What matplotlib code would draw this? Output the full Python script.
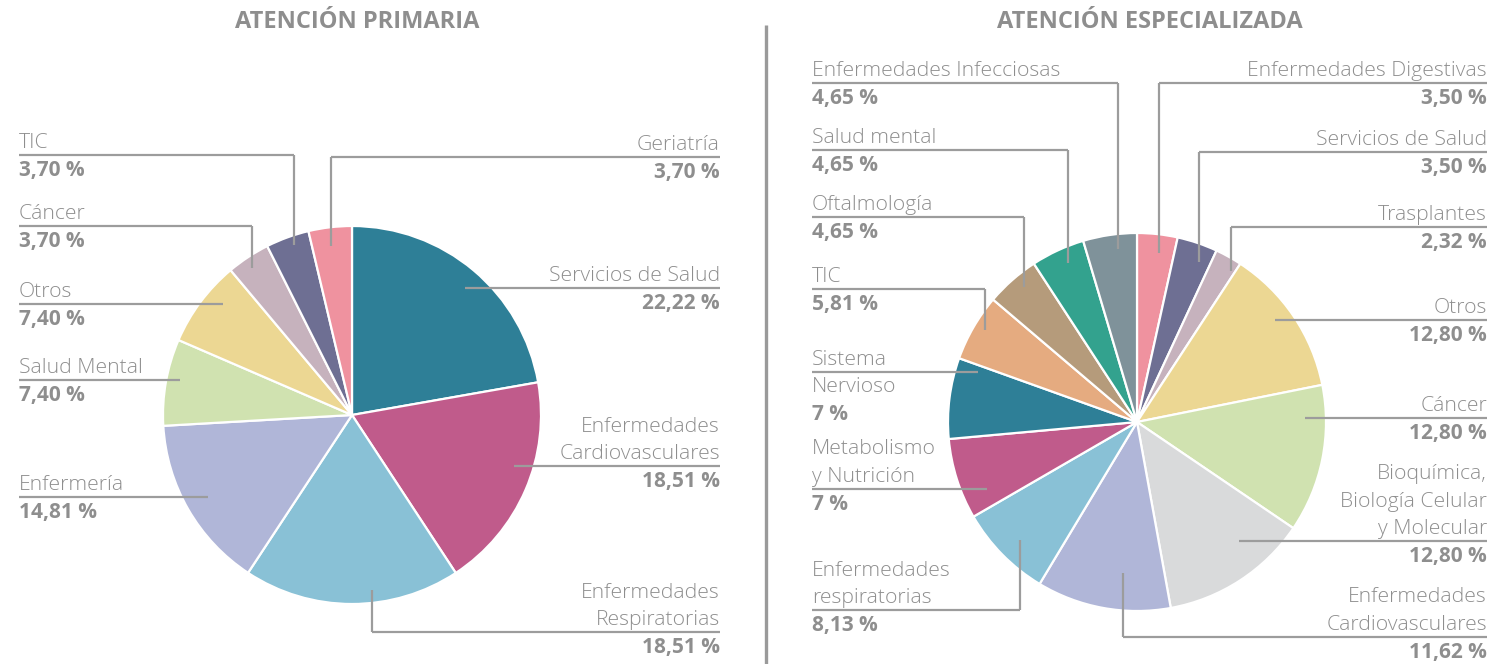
import numpy as np
import matplotlib
matplotlib.use("Agg")
import matplotlib.pyplot as plt

W, H = 1490, 664

# ---- data: atención primaria (clockwise from 12 o'clock)
prim_labels = ["Servicios de Salud", "Enfermedades\nCardiovasculares", "Enfermedades\nRespiratorias",
               "Enfermería", "Salud Mental", "Otros", "Cáncer", "TIC", "Geriatría"]
prim_values = [22.22, 18.51, 18.51, 14.81, 7.40, 7.40, 3.70, 3.70, 3.70]
prim_pct = ["22,22 %", "18,51 %", "18,51 %", "14,81 %", "7,40 %", "7,40 %", "3,70 %", "3,70 %", "3,70 %"]

# ---- data: atención especializada
esp_labels = ["Enfermedades Digestivas", "Servicios de Salud", "Trasplantes", "Otros", "Cáncer",
              "Bioquímica,\nBiología Celular\ny Molecular", "Enfermedades\nCardiovasculares",
              "Enfermedades\nrespiratorias", "Metabolismo\ny Nutrición", "Sistema\nNervioso", "TIC",
              "Oftalmología", "Salud mental", "Enfermedades Infecciosas"]
esp_values = [3.50, 3.50, 2.32, 12.80, 12.80, 12.80, 11.62, 8.13, 7, 7, 5.81, 4.65, 4.65, 4.65]
esp_pct = ["3,50 %", "3,50 %", "2,32 %", "12,80 %", "12,80 %", "12,80 %", "11,62 %", "8,13 %",
           "7 %", "7 %", "5,81 %", "4,65 %", "4,65 %", "4,65 %"]

# ---- colours
TEAL, MAG, LBLUE, LAV = "#2e7f97", "#c05b8b", "#89c1d6", "#b0b6d8"
LGREEN, YEL, PGREY, PURP, PINK = "#d0e2b0", "#ecd793", "#c6b2bd", "#6e6f93", "#ef929f"
prim_colors = [TEAL, MAG, LBLUE, LAV, LGREEN, YEL, PGREY, PURP, PINK]
esp_colors = [PINK, PURP, PGREY, YEL, LGREEN, "#d9dadb", LAV, LBLUE, MAG, TEAL,
              "#e5ab80", "#b59b7b", "#33a28e", "#7f929a"]

# ---- label layout: (text x, align, leader y, lines above leader, t within wedge, radius frac, elbow)
prim_layout = [
    (720, "right", 288, 1, .52, .90, False),
    (720, "right", 466, 2, .41, .90, False),
    (720, "right", 632, 2, .40, .93, True),
    (19, "left", 497, 1, .50, .88, False),
    (19, "left", 380, 1, .56, .93, False),
    (19, "left", 304, 1, .65, .90, False),
    (19, "left", 226, 1, .43, .94, True),
    (19, "left", 155, 1, .59, .95, True),
    (720, "right", 157, 1, .46, .90, True),
]
esp_layout = [
    (1487, "right", 83, 1, .59, .90, True),
    (1487, "right", 152, 1, .70, .91, True),
    (1487, "right", 227, 1, .85, .94, True),
    (1487, "right", 320, 1, .45, .91, False),
    (1487, "right", 418, 1, .22, .89, False),
    (1487, "right", 541, 3, .34, .83, False),
    (1487, "right", 637, 2, .38, .80, True),
    (812, "left", 610, 2, .48, .88, True),
    (812, "left", 489, 2, .25, .87, False),
    (812, "left", 372, 1, .88, .88, False),
    (812, "left", 289, 1, .56, .94, True),
    (812, "left", 217, 1, .59, .93, True),
    (812, "left", 150, 1, .58, .92, True),
    (812, "left", 83, 1, .62, .92, True),
]

TXT = "#8e8e8e"
LINE = "#9c9c9c"
FONT = "Open Sans"

fig = plt.figure(figsize=(W / 100, H / 100), dpi=100)
ax = fig.add_axes([0, 0, 1, 1])


def Y(y):
    return H - y


def draw_pie(values, colors, labels, pcts, layout, cx, cy, r):
    wedges, _ = ax.pie(values, colors=colors, startangle=90, counterclock=False,
                       center=(cx, Y(cy)), radius=r,
                       wedgeprops=dict(edgecolor="white", linewidth=1.6))
    for w, name, pct, (tx, ha, yl, nab, t, f, elbow) in zip(wedges, labels, pcts, layout):
        ang = np.deg2rad(w.theta2 - t * (w.theta2 - w.theta1))
        px = cx + f * r * np.cos(ang)
        py = cy - f * r * np.sin(ang)
        # leader
        ax.plot([tx, px], [Y(yl), Y(yl)], color=LINE, lw=1.6, solid_capstyle="butt", zorder=3)
        if elbow:
            ax.plot([px, px], [Y(yl), Y(py)], color=LINE, lw=1.6, solid_capstyle="butt", zorder=3)
        lines = name.split("\n") + [pct]
        for k, s in enumerate(lines):
            if k < nab:
                yy = yl - 14.5 - (nab - 1 - k) * 27.5
            else:
                yy = yl + 13 + (k - nab) * 27.2
            bold = k == len(lines) - 1
            ax.text(tx, Y(yy), s, ha=ha, va="center_baseline", color=TXT,
                    fontsize=15 if bold else 15.2,
                    family=FONT, weight="bold" if bold else "light")


draw_pie(prim_values, prim_colors, prim_labels, prim_pct, prim_layout, 352, 415, 189)
draw_pie(esp_values, esp_colors, esp_labels, esp_pct, esp_layout, 1137, 422, 189)

# titles and divider
ax.text(357, Y(22), "ATENCIÓN PRIMARIA", ha="center", va="center", color=TXT,
        fontsize=17, weight="bold", family=FONT)
ax.text(1150, Y(22), "ATENCIÓN ESPECIALIZADA", ha="center", va="center", color=TXT,
        fontsize=17, weight="bold", family=FONT)
ax.plot([766, 766], [Y(25), Y(664)], color="#9a9a9a", lw=2.4, solid_capstyle="butt")

ax.set_xlim(0, W)
ax.set_ylim(0, H)
ax.axis("off")

fig.savefig("out.png", dpi=100)
